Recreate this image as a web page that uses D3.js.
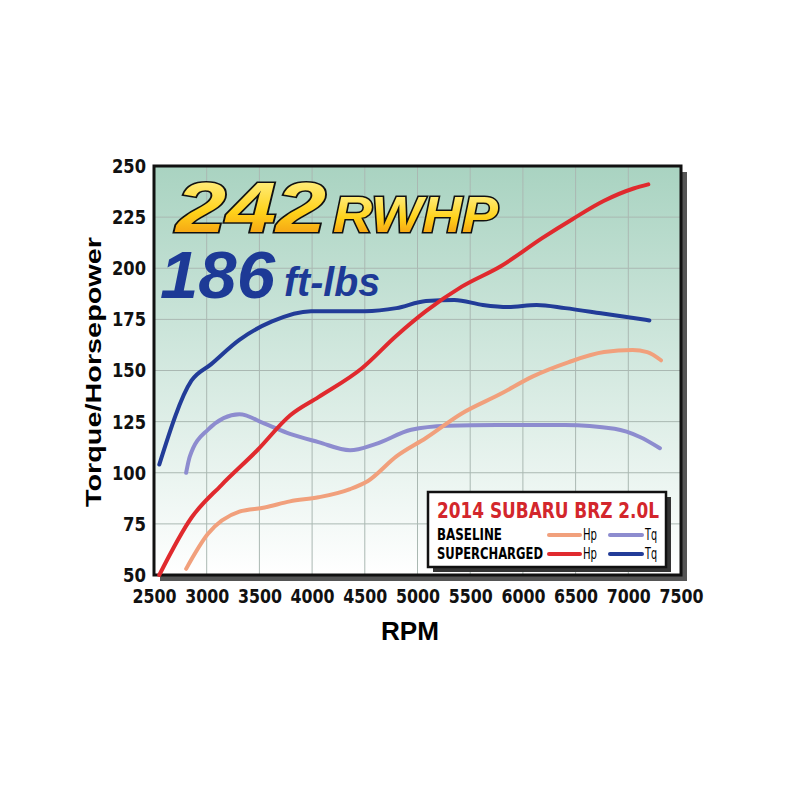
<!DOCTYPE html>
<html><head><meta charset="utf-8">
<script src="https://cdn.jsdelivr.net/npm/d3@7"></script>
<style>body{margin:0;background:#fff}</style>
</head><body>
<svg id="c" width="800" height="800"></svg>
<script>
// rpm / value pairs
var superTq = [[2550,104],[2855,145],[3040,153],[3310,165],[3620,174],[3990,179],[4500,179],[4800,180.5],[5080,184],[5350,184.5],[5620,182],[5860,181],[6130,182],[6400,180.5],[6740,178],[7200,174.5]];
var superHp = [[2550,50],[2855,78],[3140,94],[3480,111],[3790,128],[4060,137],[4470,151],[4800,167],[5080,179],[5420,191],[5790,201],[6190,215],[6470,224],[6770,233],[7050,239],[7190,241]];
var baseHp = [[2805,53],[3010,70],[3310,81],[3550,83],[3790,86],[4060,88],[4360,92],[4530,96],[4800,108],[5080,117],[5420,129],[5790,138.6],[6090,147],[6430,154],[6770,159],[7040,160],[7180,159],[7310,155]];
var baseTq = [[2805,100],[2840,108],[3010,121],[3310,128.6],[3550,124],[3790,119],[4060,115],[4360,111],[4600,114],[4940,121],[5280,123],[5750,123.4],[6400,123.4],[6870,121.5],[7110,117.5],[7300,112]];
var xTicks = d3.range(2500, 7501, 500);
var yTicks = d3.range(50, 251, 25);

var font = "'Liberation Sans Narrow','DejaVu Sans Condensed',sans-serif";
var svg = d3.select("#c");
var L = 154, R = 681, T = 166, B = 575;
var x = d3.scaleLinear().domain([2500, 7500]).range([L, R]);
var y = d3.scaleLinear().domain([50, 250]).range([B, T]);

var defs = svg.append("defs");
var bg = defs.append("linearGradient").attr("id","bg").attr("x1",0).attr("x2",0).attr("y1",0).attr("y2",1);
bg.append("stop").attr("offset","0%").attr("stop-color","#a9d3c1");
bg.append("stop").attr("offset","100%").attr("stop-color","#ffffff");
var gold = defs.append("linearGradient").attr("id","gold").attr("x1",0).attr("x2",0).attr("y1",0).attr("y2",1);
gold.append("stop").attr("offset","0%").attr("stop-color","#fff7a0");
gold.append("stop").attr("offset","55%").attr("stop-color","#ffd21a");
gold.append("stop").attr("offset","100%").attr("stop-color","#f08a10");

function squeeze(sel, len) {
  return sel.attr("textLength", len).attr("lengthAdjust", "spacingAndGlyphs");
}

// shadow + frame
svg.append("rect").attr("x",L+6).attr("y",T+6).attr("width",R-L).attr("height",B-T).attr("fill","#555");
svg.append("rect").attr("x",L).attr("y",T).attr("width",R-L).attr("height",B-T).attr("fill","url(#bg)");

svg.append("g").selectAll("line").data(xTicks).join("line")
  .attr("x1",x).attr("x2",x).attr("y1",T).attr("y2",B).attr("stroke","#aab8b2").attr("stroke-width",1);
svg.append("g").selectAll("line").data(yTicks).join("line")
  .attr("y1",y).attr("y2",y).attr("x1",L).attr("x2",R).attr("stroke","#aab8b2").attr("stroke-width",1);
svg.append("rect").attr("x",L).attr("y",T).attr("width",R-L).attr("height",B-T).attr("fill","none").attr("stroke","#111").attr("stroke-width",3);

var xa = svg.append("g").attr("transform","translate(0,"+(B+2)+")").call(d3.axisBottom(x).tickValues(xTicks).tickFormat(d3.format("d")).tickSize(0).tickPadding(12));
var ya = svg.append("g").attr("transform","translate("+(L-2)+",0)").call(d3.axisLeft(y).tickValues(yTicks).tickSize(0).tickPadding(6));
[xa, ya].forEach(function(a){
  a.select(".domain").remove();
  a.selectAll("text").attr("font-family",font).attr("font-weight","bold").attr("font-size",20).attr("fill","#111");
});
xa.selectAll("text").each(function(){ squeeze(d3.select(this), 44); });
ya.selectAll("text").each(function(d){ squeeze(d3.select(this), d >= 100 ? 34 : 23); });

squeeze(svg.append("text").attr("x",410).attr("y",640).attr("text-anchor","middle").attr("font-family","'Liberation Sans',sans-serif")
  .attr("font-weight","bold").attr("font-size",25), 58).text("RPM");
squeeze(svg.append("text").attr("transform","translate(101,372) rotate(-90)").attr("text-anchor","middle").attr("font-family","'Liberation Sans',sans-serif")
  .attr("font-weight","bold").attr("font-size",22), 270).text("Torque/Horsepower");

// headline
var g1 = svg.append("g").attr("font-family","'Liberation Sans','DejaVu Sans',sans-serif").attr("font-weight","bold").attr("font-style","italic");
squeeze(g1.append("text").attr("x",176).attr("y",232).attr("font-size",70).attr("fill","url(#gold)").attr("stroke","#111").attr("stroke-width",3)
  .attr("paint-order","stroke"), 150).text("242");
squeeze(g1.append("text").attr("x",333).attr("y",232).attr("font-size",50).attr("fill","url(#gold)").attr("stroke","#111").attr("stroke-width",3)
  .attr("paint-order","stroke"), 165).text("RWHP");
squeeze(g1.append("text").attr("x",160).attr("y",298).attr("font-size",66).attr("fill","#1d3a96"), 115).text("186");
squeeze(g1.append("text").attr("x",284).attr("y",296).attr("font-size",40).attr("fill","#1d3a96"), 96).text("ft-lbs");

// curves
var line = d3.line().x(function(d){return x(d[0]);}).y(function(d){return y(d[1]);}).curve(d3.curveMonotoneX);
var series = [
  {d: baseTq, c: "#8d8ccf"},
  {d: baseHp, c: "#f1a07c"},
  {d: superTq, c: "#223c98"},
  {d: superHp, c: "#e02a2e"}
];
svg.append("g").selectAll("path").data(series).join("path")
  .attr("d",function(s){return line(s.d);}).attr("fill","none")
  .attr("stroke",function(s){return s.c;}).attr("stroke-width",4).attr("stroke-linecap","round");

// legend
var lg = svg.append("g").attr("transform","translate(428,492)");
lg.append("rect").attr("x",5).attr("y",5).attr("width",238).attr("height",75).attr("fill","#333");
lg.append("rect").attr("width",238).attr("height",75).attr("fill","#fff").attr("stroke","#111").attr("stroke-width",2.5);
squeeze(lg.append("text").attr("x",9).attr("y",26).attr("font-family",font).attr("font-weight","bold").attr("font-size",21).attr("fill","#d3262c"), 222).text("2014 SUBARU BRZ 2.0L");
var rows = [["BASELINE","#f1a07c","#8d8ccf",48,65],["SUPERCHARGED","#e02a2e","#223c98",67,106]];
rows.forEach(function(r){
  squeeze(lg.append("text").attr("x",9).attr("y",r[3]).attr("font-family",font).attr("font-weight","bold").attr("font-size",15), r[4]).text(r[0]);
  lg.append("line").attr("x1",121).attr("x2",152).attr("y1",r[3]-5).attr("y2",r[3]-5).attr("stroke",r[1]).attr("stroke-width",4).attr("stroke-linecap","round");
  squeeze(lg.append("text").attr("x",155).attr("y",r[3]).attr("font-family",font).attr("font-size",15), 14).text("Hp");
  lg.append("line").attr("x1",182).attr("x2",214).attr("y1",r[3]-5).attr("y2",r[3]-5).attr("stroke",r[2]).attr("stroke-width",4).attr("stroke-linecap","round");
  squeeze(lg.append("text").attr("x",217).attr("y",r[3]).attr("font-family",font).attr("font-size",15), 12).text("Tq");
});
</script>
</body></html>
